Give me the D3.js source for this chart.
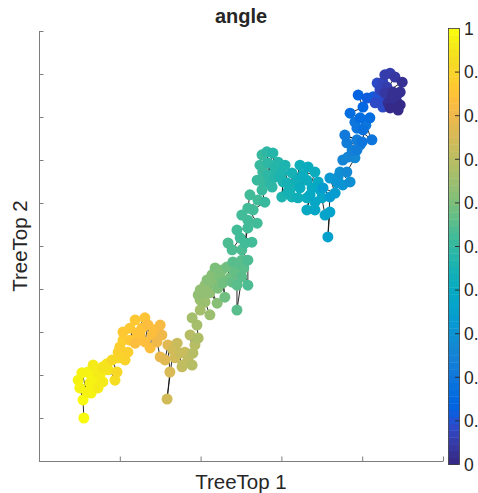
<!DOCTYPE html>
<html><head><meta charset="utf-8">
<script src="https://cdn.jsdelivr.net/npm/d3@7"></script>
<style>
html,body{margin:0;padding:0;background:#fff;overflow:hidden}
svg{display:block}
text{font-family:"Liberation Sans",Arial,Helvetica,sans-serif;fill:#262626}
</style>
</head><body>
<svg id="c" width="478" height="493"></svg>
<script>
// ---- data (TreeTop layout coordinates) ----
const treeTop1 = [
 11.1,10.9,10.1,11.9,12.9,12.6,14.6,15.8,14.6,13.1,
 12.1,10.6,13.4,15.8,17.1,18.8,19.3,18.1,19.6,21.3,
 22.0,20.0,20.8,20.8,22.5,23.8,26.2,25.5,24.3,23.8,
 26.2,27.5,28.0,30.0,30.4,29.2,30.0,31.2,32.4,31.7,
 35.4,33.2,34.2,34.9,36.1,35.6,37.9,38.1,37.4,39.4,
 39.1,37.9,39.9,42.3,41.1,39.9,39.4,40.6,39.9,42.3,
 44.1,41.6,42.8,43.6,44.8,44.3,46.0,45.5,47.3,46.5,
 47.8,49.0,49.0,50.2,51.7,48.0,49.3,50.2,51.7,50.2,
 46.8,49.8,52.7,49.0,51.7,51.7,54.0,51.7,52.2,54.2,
 55.9,55.2,54.0,55.9,57.2,57.7,55.4,54.7,55.2,56.4,
 57.9,56.7,59.2,59.7,58.4,59.7,60.1,60.4,61.4,61.6,
 60.1,62.1,62.6,62.6,64.6,66.6,68.3,63.9,66.3,64.6,
 66.3,67.6,69.6,68.3,70.0,66.3,68.3,70.8,72.0,71.5,
 72.0,73.3,70.3,72.0,74.0,73.8,77.0,74.5,76.2,75.2,
 76.5,77.5,78.7,76.2,78.7,75.7,80.0,82.4,78.7,80.2,
 81.9,79.5,77.0,80.2,79.0,81.2,82.7,83.7,83.2,85.1,
 84.9,83.7,85.1,86.1,86.9,88.1,89.9,88.6,89.4,87.6,
 85.6,86.4,88.6,89.4,88.9,86.9,
 9.7,13.9,15.1,16.8,19.6,22.5,25.0,27.0,28.7,31.9,
 33.7,36.9,38.6,41.1,43.1,45.3,48.5,50.7,47.8,51.0,
 50.2,53.0,56.7,58.4,60.9,63.4,65.3,67.1,69.1,64.1,
 75.2,78.2,79.5,80.9,78.2,84.4,87.4,85.6
];
const treeTop2 = [
 10.0,14.2,17.0,16.0,15.8,18.1,17.0,18.4,20.5,19.5,
 20.7,20.5,22.3,21.9,21.2,18.8,20.7,23.5,24.0,23.5,
 25.3,26.5,28.1,30.0,30.9,32.8,33.3,30.9,29.8,27.4,
 27.7,26.3,29.3,31.6,29.3,27.7,24.2,23.5,20.7,14.4,
 21.9,25.8,27.4,25.1,25.3,22.3,22.3,25.1,29.3,28.6,
 31.6,33.3,35.1,34.0,37.0,37.4,38.6,39.1,39.8,39.1,
 36.7,42.1,43.3,44.9,42.8,40.2,38.1,41.4,42.6,45.1,
 41.6,40.9,35.1,42.8,40.9,46.3,46.0,46.7,46.7,49.1,
 50.7,51.9,50.9,53.7,54.2,56.0,55.3,58.8,61.9,60.7,
 60.2,63.0,65.3,64.9,64.7,63.7,67.2,68.8,71.2,71.9,
 71.6,69.3,69.5,68.8,66.0,66.0,67.0,64.9,64.7,62.6,
 61.4,63.0,61.4,67.0,68.8,68.4,67.2,65.3,65.3,63.5,
 61.2,63.5,63.0,60.2,61.2,58.4,58.4,57.2,57.9,52.1,
 61.4,62.3,63.5,65.8,66.0,64.7,64.9,67.2,67.2,70.0,
 70.7,72.3,72.3,74.0,74.7,75.8,74.2,74.7,77.4,77.0,
 79.8,79.8,80.9,82.3,85.1,84.4,84.7,84.7,83.3,82.3,
 83.5,87.9,88.1,87.0,90.2,89.3,88.1,85.1,85.8,85.8,
 85.6,83.3,83.5,82.8,81.6,82.1,
 18.8,18.4,20.0,22.6,25.3,28.1,29.3,31.6,30.5,27.0,
 24.0,23.5,27.0,40.9,41.4,44.4,44.0,44.9,49.1,50.7,
 57.2,58.4,66.5,68.1,68.8,64.2,66.5,61.9,64.9,61.2,
 64.2,70.5,73.5,78.1,78.8,86.3,84.7,89.8
];
const angle = [
 1.00,0.99,0.98,0.98,0.97,0.97,0.96,0.96,0.96,0.97,
 0.97,0.98,0.96,0.95,0.94,0.93,0.92,0.92,0.91,0.90,
 0.89,0.89,0.88,0.87,0.86,0.86,0.85,0.85,0.85,0.84,
 0.84,0.83,0.83,0.82,0.81,0.80,0.79,0.78,0.76,0.74,
 0.73,0.74,0.73,0.72,0.72,0.71,0.70,0.70,0.69,0.68,
 0.67,0.67,0.66,0.65,0.65,0.65,0.64,0.64,0.63,0.63,
 0.62,0.62,0.61,0.60,0.60,0.60,0.59,0.59,0.58,0.58,
 0.57,0.56,0.55,0.55,0.54,0.55,0.55,0.55,0.54,0.54,
 0.54,0.53,0.53,0.53,0.53,0.52,0.52,0.52,0.52,0.52,
 0.51,0.51,0.51,0.50,0.49,0.49,0.50,0.50,0.50,0.49,
 0.48,0.49,0.47,0.47,0.48,0.46,0.46,0.46,0.45,0.45,
 0.46,0.44,0.44,0.44,0.43,0.42,0.41,0.43,0.42,0.42,
 0.41,0.40,0.39,0.39,0.38,0.40,0.39,0.37,0.36,0.35,
 0.34,0.33,0.34,0.32,0.31,0.31,0.29,0.29,0.28,0.26,
 0.25,0.24,0.23,0.23,0.22,0.21,0.20,0.19,0.19,0.18,
 0.17,0.17,0.16,0.15,0.14,0.12,0.11,0.10,0.09,0.08,
 0.08,0.08,0.07,0.06,0.05,0.04,0.03,0.03,0.02,0.03,
 0.04,0.03,0.02,0.01,0.00,0.01,
 0.98,0.97,0.96,0.94,0.90,0.86,0.85,0.84,0.83,0.77,
 0.74,0.71,0.69,0.63,0.62,0.60,0.57,0.55,0.54,0.53,
 0.52,0.52,0.49,0.48,0.46,0.44,0.42,0.40,0.40,0.43,
 0.31,0.27,0.23,0.20,0.19,0.07,0.03,0.06
];
const xTicks = [0,20,40,60,80,100];
const yTicks = [0,10,20,30,40,50,60,70,80,90,100];
const cbTicks = [0,0.1,0.2,0.3,0.4,0.5,0.6,0.7,0.8,0.9,1];
const cbLabels = ["0","0.1","0.2","0.3","0.4","0.5","0.6","0.7","0.8","0.9","1"];
const titleText = "angle", xLabel = "TreeTop 1", yLabel = "TreeTop 2";

// parula colormap (64 entries)
const parula = [
[0.2081,0.1663,0.5292],[0.2116,0.1898,0.5777],[0.2123,0.2138,0.6270],[0.2081,0.2386,0.6771],
[0.1959,0.2645,0.7279],[0.1707,0.2919,0.7792],[0.1253,0.3242,0.8303],[0.0591,0.3598,0.8683],
[0.0117,0.3875,0.8820],[0.0060,0.4086,0.8828],[0.0165,0.4266,0.8786],[0.0329,0.4430,0.8720],
[0.0498,0.4586,0.8641],[0.0629,0.4737,0.8554],[0.0723,0.4887,0.8467],[0.0779,0.5040,0.8384],
[0.0793,0.5200,0.8312],[0.0749,0.5375,0.8263],[0.0641,0.5570,0.8240],[0.0488,0.5772,0.8228],
[0.0343,0.5966,0.8199],[0.0265,0.6137,0.8135],[0.0239,0.6287,0.8038],[0.0231,0.6418,0.7913],
[0.0228,0.6535,0.7768],[0.0267,0.6642,0.7607],[0.0384,0.6743,0.7436],[0.0590,0.6838,0.7254],
[0.0843,0.6928,0.7062],[0.1133,0.7015,0.6859],[0.1453,0.7098,0.6646],[0.1801,0.7177,0.6424],
[0.2178,0.7250,0.6193],[0.2586,0.7317,0.5954],[0.3022,0.7376,0.5712],[0.3482,0.7424,0.5473],
[0.3953,0.7459,0.5244],[0.4420,0.7481,0.5033],[0.4871,0.7491,0.4840],[0.5300,0.7491,0.4661],
[0.5709,0.7485,0.4494],[0.6099,0.7473,0.4337],[0.6473,0.7456,0.4188],[0.6834,0.7435,0.4044],
[0.7184,0.7411,0.3905],[0.7525,0.7384,0.3768],[0.7858,0.7356,0.3633],[0.8185,0.7327,0.3498],
[0.8507,0.7299,0.3360],[0.8824,0.7274,0.3217],[0.9139,0.7258,0.3063],[0.9450,0.7261,0.2886],
[0.9739,0.7314,0.2666],[0.9938,0.7455,0.2403],[0.9990,0.7653,0.2164],[0.9955,0.7861,0.1967],
[0.9880,0.8066,0.1794],[0.9789,0.8271,0.1633],[0.9697,0.8481,0.1475],[0.9626,0.8705,0.1309],
[0.9589,0.8949,0.1132],[0.9598,0.9218,0.0948],[0.9661,0.9514,0.0755],[0.9763,0.9831,0.0538]
];
function cmap(v){
  let i = Math.floor(v*parula.length);
  i = Math.max(0, Math.min(parula.length-1, i));
  const c = parula[i];
  return d3.rgb(c[0]*255, c[1]*255, c[2]*255).formatHex();
}

// ---- layout ----
const svg = d3.select("#c");
const x = d3.scaleLinear().domain([0,100]).range([39,443]);
const y = d3.scaleLinear().domain([0,100]).range([461,31]);
const cb = d3.scaleLinear().domain([0,1]).range([464.5,28.5]);
const axisColor = "#7d7d7d";

// points ordered along the trajectory (angle from 1 down to 0)
const pts = treeTop1.map((d,i)=>({x:d, y:treeTop2[i], v:angle[i], i}))
  .sort((a,b)=> (b.v-a.v) || (a.i-b.i));

svg.append("path")
  .datum(pts)
  .attr("fill","none")
  .attr("stroke","#111")
  .attr("stroke-width",0.9)
  .attr("d", d3.line().x(d=>x(d.x)).y(d=>y(d.y)));

svg.append("g").selectAll("circle").data(pts).join("circle")
  .attr("cx", d=>x(d.x)).attr("cy", d=>y(d.y)).attr("r", 5.5)
  .attr("fill", d=>cmap(d.v));

// axes (box off, inward ticks, no tick labels)
const gx = svg.append("g").attr("transform","translate(0,461)")
  .call(d3.axisBottom(x).tickValues(xTicks).tickSize(-4.5).tickSizeOuter(0).tickFormat(""));
const gy = svg.append("g").attr("transform","translate(39,0)")
  .call(d3.axisLeft(y).tickValues(yTicks).tickSize(-4.5).tickSizeOuter(0).tickFormat(""));
[gx,gy].forEach(g=>{
  g.selectAll("path,line").attr("stroke",axisColor).attr("stroke-width",1);
});

// colorbar
const cbX = 448.5, cbW = 11;
const nC = parula.length;
svg.append("g").selectAll("rect").data(d3.range(nC)).join("rect")
  .attr("x", cbX).attr("width", cbW)
  .attr("y", i=>cb((i+1)/nC)).attr("height", i=>cb(i/nC)-cb((i+1)/nC)+0.4)
  .attr("fill", i=>cmap((i+0.5)/nC));
svg.append("rect").attr("x",cbX).attr("y",cb(1)).attr("width",cbW).attr("height",cb(0)-cb(1))
  .attr("fill","none").attr("stroke","#3a3a3a").attr("stroke-width",0.8);
svg.append("g").selectAll("line").data(cbTicks.slice(1,-1)).join("line")
  .attr("x1", cbX+cbW-4.5).attr("x2", cbX+cbW)
  .attr("y1", d=>cb(d)).attr("y2", d=>cb(d))
  .attr("stroke","#262626").attr("stroke-width",0.9);
svg.append("g").selectAll("text").data(cbTicks).join("text")
  .attr("x", 464).attr("y", d=>cb(d)).attr("dy","0.36em")
  .attr("font-size", 17.5)
  .text((d,i)=>cbLabels[i]);

// title and labels
svg.append("text").attr("x",241).attr("y",23).attr("text-anchor","middle")
  .attr("font-size",20).attr("font-weight","bold").attr("fill","#000").text(titleText);
svg.append("text").attr("x",241).attr("y",489).attr("text-anchor","middle")
  .attr("font-size",20.5).text(xLabel);
svg.append("text").attr("transform","translate(27,246) rotate(-90)").attr("text-anchor","middle")
  .attr("font-size",20.5).text(yLabel);
</script>
</body></html>
